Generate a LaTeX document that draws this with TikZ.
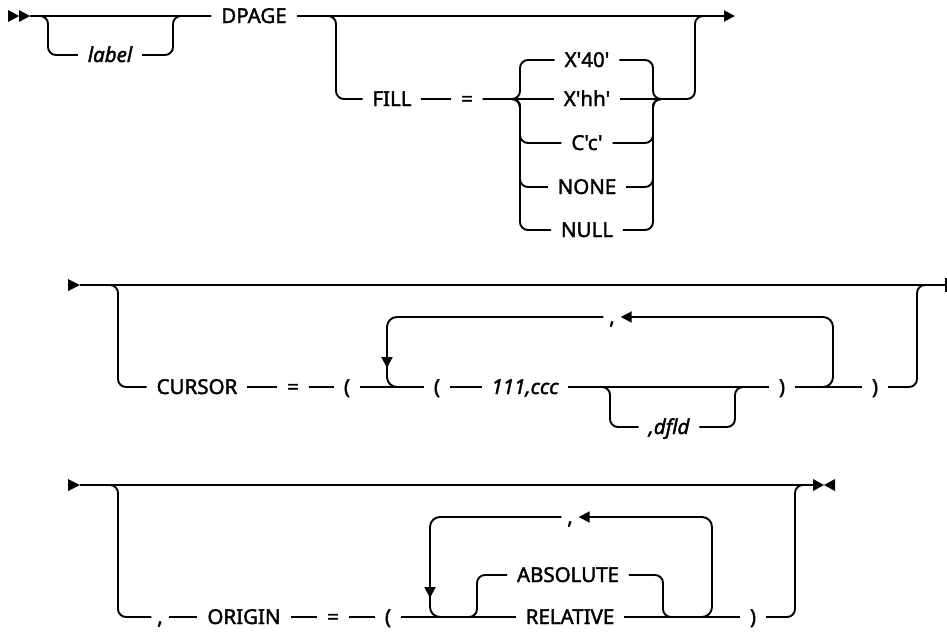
\documentclass[tikz,border=0pt]{standalone}
\usepackage{fontspec}
\setmainfont{Noto Sans}[Ligatures=TeXOff, FakeBold=1.8]
\usetikzlibrary{arrows.meta}

\begin{document}
\begin{tikzpicture}[x=1pt, y=-1pt, line width=1.9pt,
  txt/.style={inner xsep=9pt, inner ysep=0pt, text height=14pt, text depth=0pt,
              font=\fontsize{20.5}{24}\selectfont},
  itx/.style={txt, font=\fontsize{20.5}{24}\selectfont\itshape},
  sep/.style={txt, inner xsep=5pt},
  br/.style={rounded corners=8pt},
  back/.style={rounded corners=10pt},
  arr/.style={-{Triangle[length=11pt, width=11pt]}},
]
  \useasboundingbox (0,0) rectangle (947,632);

  % first line
  \node[itx] (lbl)    at (110,55)  {label};
  \node[txt] (dpage)  at (254,16)  {DPAGE};
  \node[txt] (fill)   at (392,99)  {FILL};
  \node[txt] (eqa)    at (467,99)  {=};
  \node[txt] (xforty) at (587,60)  {X'40'};
  \node[txt] (xhh)    at (587,99)  {X'hh'};
  \node[txt] (cc)     at (587,143) {C'c'};
  \node[txt] (none)   at (587,187) {NONE};
  \node[txt] (nul)    at (587,230) {NULL};

  \fill (8,10) -- (19,16) -- (8,22) -- cycle;
  \fill (19,10) -- (30,16) -- (19,22) -- cycle;
  \draw (30,16) -- (dpage.west);
  \draw[arr] (dpage.east) -- (735,16);
  \draw[br] (40,16) -| (48,55) -- (lbl.west);
  \draw[br] (lbl.east) -| (173,16) -- (dpage.west);
  \draw[br] (328,16) -| (336,99) -- (fill.west);
  \draw (fill.east) -- (eqa.west);
  \draw (eqa.east) -- (xhh.west);
  \foreach \n in {xforty,cc,none,nul} {
    \draw[br] (eqa.east) -| (520,0 |- \n.west) -- (\n.west);
    \draw[br] (\n.east) -| (653,99) -- (xhh.east -| 661,0);
  }
  \draw[br] (xhh.east) -| (695,16) -- (703,16);

  % second line
  \node[txt] (cursor) at (197,387) {CURSOR};
  \node[txt] (eqb)    at (293,387) {=};
  \node[txt] (lpa)    at (347,387) {(};
  \node[txt] (lpb)    at (437,387) {(};
  \node[itx] (num)    at (525,387) {111,ccc};
  \node[itx] (dfld)   at (669,427) {,dfld};
  \node[txt] (rpa)    at (782,387) {)};
  \node[txt] (rpb)    at (875,387) {)};
  \node[sep] (cma)    at (612,317) {,};

  \fill (68,279) -- (80,285) -- (68,291) -- cycle;
  \draw (80,285) -- (946,285);
  \draw (946,278) -- (946,292);
  \draw[br] (110,285) -| (118,387) -- (cursor.west);
  \draw (cursor.east) -- (eqb.west);
  \draw (eqb.east) -- (lpa.west);
  \draw (lpa.east) -- (lpb.west);
  \draw (lpb.east) -- (num.west);
  \draw (num.east) -- (rpa.west);
  \draw[br] (num.east) -| (610,427) -- (dfld.west);
  \draw[br] (dfld.east) -| (735,387) -- (rpa.west);
  \draw (rpa.east) -- (rpb.west);
  \draw[back, arr] (rpa.east) -| (833,317) -- (cma.east);
  \draw[back, arr] (cma.west) -| (387,368);
  \draw[back] (387,360) |- (lpb.west);
  \draw[br] (rpb.east) -| (917,285) -- (925,285);

  % third line
  \node[sep] (cmb)    at (160,617) {,};
  \node[txt] (origin) at (244,617) {ORIGIN};
  \node[txt] (eqc)    at (333,617) {=};
  \node[txt] (lpc)    at (388,617) {(};
  \node[txt] (abs)    at (568,575) {ABSOLUTE};
  \node[txt] (rel)    at (570,617) {RELATIVE};
  \node[txt] (rpc)    at (753,617) {)};
  \node[sep] (cmc)    at (570,517) {,};

  \fill (68,479) -- (80,485) -- (68,491) -- cycle;
  \draw (80,485) -- (813,485);
  \fill (813,479) -- (824,485) -- (813,491) -- cycle;
  \fill (835,479) -- (824,485) -- (835,491) -- cycle;
  \draw[br] (110,485) -| (118,617) -- (cmb.west);
  \draw (cmb.east) -- (origin.west);
  \draw (origin.east) -- (eqc.west);
  \draw (eqc.east) -- (lpc.west);
  \draw (lpc.east) -- (rel.west);
  \draw[br] (lpc.east) -| (477,575) -- (abs.west);
  \draw[br] (abs.east) -| (663,617) -- (rpc.west);
  \draw (rel.east) -- (rpc.west);
  \draw[back, arr] (rel.east) -| (712,517) -- (cmc.east);
  \draw[back, arr] (cmc.west) -| (430,598);
  \draw[back] (430,590) |- (rel.west);
  \draw[br] (rpc.east) -| (795,485) -- (803,485);
\end{tikzpicture}
\end{document}
